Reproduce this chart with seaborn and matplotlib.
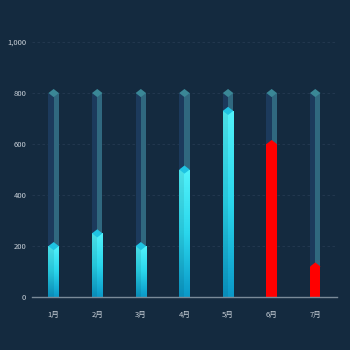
import numpy as np
import pandas as pd
import matplotlib
matplotlib.use("Agg")
import matplotlib.pyplot as plt
from matplotlib.patches import Polygon
from matplotlib.colors import LinearSegmentedColormap
import seaborn as sns

months = ["1月", "2月", "3月", "4月", "5月", "6月", "7月"]
values = [200, 250, 200, 500, 730, 600, 120]
capacity = [800, 800, 800, 800, 800, 800, 800]
highlight = [False, False, False, False, False, True, True]
y_ticks = [0, 200, 400, 600, 800, 1000]
y_tick_labels = ["0", "200", "400", "600", "800", "1,000"]

BG = "#142a3f"
sns.set_theme(style="dark")
plt.rcParams["font.family"] = ["Noto Sans CJK SC", "DejaVu Sans"]

fig = plt.figure(figsize=(3.5, 3.5), dpi=100, facecolor=BG)
ax = fig.add_axes([0.091, 0.151, 0.872, 0.729], facecolor=BG)

df = pd.DataFrame({"month": months, "value": values, "cap": capacity})
W = 0.24
x = np.arange(len(months))

# background "capacity" columns, two faces for a 3D look
sns.barplot(data=df, x="month", y="cap", ax=ax, color="#1c3a5c", width=W,
            saturation=1, zorder=1, linewidth=0, edgecolor="none")
for i, c in enumerate(capacity):
    ax.bar(x[i] + W / 4, c, width=W / 2, color="#30687f", zorder=1.1, lw=0)

h = 16  # half-height of the top diamond in data units


def cap(xc, v, color, z):
    ax.add_patch(Polygon([(xc - W / 2, v), (xc, v + h), (xc + W / 2, v), (xc, v - h)],
                         closed=True, facecolor=color, edgecolor="none", zorder=z))


for i, c in enumerate(capacity):
    cap(x[i], c, "#3a8796", 1.2)

# value columns
n_before = len(ax.patches)
sns.barplot(data=df, x="month", y="value", ax=ax, color="#20c4e0", width=W,
            saturation=1, zorder=2, linewidth=0, edgecolor="none")
bars = ax.patches[n_before:n_before + len(values)]
cmap = LinearSegmentedColormap.from_list("cy", ["#0a98c8", "#2ad6ec", "#52f2fa"])
grad = np.linspace(0, 1, 256).reshape(-1, 1)
for i, (b, v) in enumerate(zip(bars, values)):
    b.set_linewidth(0)
    if highlight[i]:
        b.set_facecolor("#ff0000")
        cap(x[i], v, "#ff0000", 2.5)
    else:
        b.set_facecolor("none")
        im = ax.imshow(grad, cmap=cmap, origin="lower", aspect="auto",
                       extent=(x[i] - W / 2, x[i] + W / 2, 0, v), zorder=2)
        im.set_clip_path(b)
        ax.bar(x[i] - W / 4, v, width=W / 2, color="black", alpha=0.08, zorder=2.2, lw=0)
        cap(x[i], v, "#1fc3e2", 2.5)

ax.set_xlim(-0.5, len(months) - 0.5)
ax.set_ylim(0, 1000)
ax.set_yticks(y_ticks)
ax.set_yticklabels(y_tick_labels)
ax.set_xlabel("")
ax.set_ylabel("")
ax.grid(False)
for yv in y_ticks[1:]:
    ax.axhline(yv, color="#253a52", lw=0.6, ls=(0, (3, 3)), zorder=0)
for s in ["top", "right", "left"]:
    ax.spines[s].set_visible(False)
ax.spines["bottom"].set_color("#7a8a98")
ax.spines["bottom"].set_linewidth(1)
ax.tick_params(axis="both", length=0, colors="#c8d0d8", labelsize=5.5)
ax.tick_params(axis="x", pad=10)
ax.tick_params(axis="y", pad=4)

fig.savefig("out.png", dpi=100, facecolor=BG)
